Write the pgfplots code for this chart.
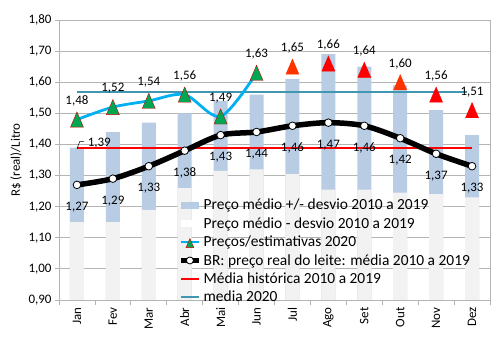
\documentclass[border=0pt]{standalone}
\usepackage{fontspec}
\setmainfont{Carlito}
\usepackage{pgfplots}
\pgfplotsset{compat=1.18}
\definecolor{barblue}{HTML}{B8CCE4}
\definecolor{bargray}{HTML}{F2F2F2}
\definecolor{lineblue}{HTML}{00B0F0}
\definecolor{trigreen}{HTML}{00A651}
\definecolor{tealline}{HTML}{4197B0}
\definecolor{gridgray}{HTML}{B4B4B4}
\definecolor{orred}{HTML}{FF3300}
\newcommand{\fs}{\fontsize{13}{15}\selectfont}
\pgfplotsset{
  trileg/.style={legend image code/.code={\draw[mark repeat=2,mark phase=2,##1, mark size=4.5bp] plot coordinates {(0bp,0bp)(9bp,0bp)(18bp,0bp)};}},
  circleg/.style={legend image code/.code={\draw[mark repeat=2,mark phase=2,##1, mark size=3.5bp] plot coordinates {(0bp,0bp)(9bp,0bp)(18bp,0bp)};}},
  lineleg/.style={legend image code/.code={\draw[mark repeat=2,mark phase=2,##1] plot coordinates {(0bp,0bp)(9bp,0bp)(18bp,0bp)};}},
  blueleg/.style={legend image code/.code={\fill[barblue] (0bp,-3.5bp) rectangle (18bp,3.5bp);}},
  grayleg/.style={legend image code/.code={\fill[white] (0bp,-3.5bp) rectangle (18bp,3.5bp);}},
}
\begin{document}
\begin{tikzpicture}
\path[use as bounding box] (-59bp,-51bp) rectangle (441bp,300bp);
\begin{axis}[
  at={(0,0)}, anchor=south west,
  scale only axis, width=431bp, height=280bp,
  xmin=-0.5, xmax=11.5, ymin=0.9, ymax=1.8,
  ytick={0.9,1.0,1.1,1.2,1.3,1.4,1.5,1.6,1.7,1.8},
  /pgf/number format/use comma,
  /pgf/number format/fixed,
  /pgf/number format/fixed zerofill,
  /pgf/number format/precision=2,
  /pgf/number format/assume math mode=true,
  tick label style={font=\fs},
  ymajorgrids, major grid style={gridgray, line width=0.8bp},
  xtick={0,...,11},
  xticklabels={Jan,Fev,Mar,Abr,Mai,Jun,Jul,Ago,Set,Out,Nov,Dez},
  xticklabel style={rotate=90, anchor=east},
  major x tick style={draw=none},
  minor xtick={-0.5,0.5,...,11.5},
  tick align=outside, xtick pos=bottom, ytick pos=left,
  major tick length=4bp, minor tick length=5bp,
  tick style={gridgray, line width=0.8bp},
  axis line style={gridgray, line width=0.8bp},
  ylabel={R\$ (real)/Litro}, ylabel style={font=\fs},
  lineleg,
  legend style={draw=none, fill=none, at={(axis description cs:0.276,0.368)}, anchor=north west,
    inner sep=0pt, font=\fontsize{15.5}{18}\selectfont, cells={anchor=west}, row sep=2.2bp,
    /tikz/every even column/.append style={column sep=0bp}},
  nodes near coords style={font=\fs, anchor=center, text=black},
]
% upper bars (mean + sd)
\addplot[ybar, bar width=14bp, bar shift=0pt, fill=barblue, draw=none, blueleg]
  coordinates {(0,1.39) (1,1.44) (2,1.47) (3,1.50) (4,1.54) (5,1.56) (6,1.61) (7,1.69) (8,1.65) (9,1.59) (10,1.51) (11,1.43)};
\addlegendentry{Preço médio +/- desvio 2010 a 2019}
% lower bars (mean - sd)
\addplot[ybar, bar width=14bp, bar shift=0pt, fill=bargray, draw=none, grayleg]
  coordinates {(0,1.15) (1,1.15) (2,1.19) (3,1.26) (4,1.315) (5,1.32) (6,1.305) (7,1.255) (8,1.255) (9,1.245) (10,1.24) (11,1.23)};
\addlegendentry{Preço médio - desvio 2010 a 2019}
% horizontal reference lines (drawn below the series)
\addplot[red, line width=2bp, forget plot] coordinates {(0,1.39) (11,1.39)};
\addplot[tealline, line width=2bp, forget plot] coordinates {(0,1.57) (10.85,1.57)};
% prices 2020
\addplot[lineblue, line width=2.8bp, smooth, tension=0.5, mark=triangle*, mark size=7.5bp,
  mark options={fill=trigreen, draw=red!80!black, line width=0.4bp, solid, yshift=-2.5bp, yscale=1.35},
  nodes near coords, nodes near coords style={yshift=21bp}, trileg]
  coordinates {(0,1.48) (1,1.52) (2,1.54) (3,1.56) (4,1.49) (5,1.63)};
\addlegendentry{Preços/estimativas 2020}
% estimates 2020
\addplot[only marks, mark=triangle*, mark size=7.5bp, mark options={fill=orred, draw=orred, yshift=-2.5bp, yscale=1.35},
  nodes near coords, nodes near coords style={yshift=21bp}, forget plot]
  coordinates {(6,1.65) (9,1.60)};
\addplot[only marks, mark=triangle*, mark size=7.5bp, mark options={fill=red, draw=red, yshift=-2.5bp, yscale=1.35},
  nodes near coords, nodes near coords style={yshift=21bp}, forget plot]
  coordinates {(7,1.66) (8,1.64) (10,1.56) (11,1.51)};
% historical mean line
\addplot[black, line width=5.5bp, smooth, tension=0.5, mark=*, mark size=3.8bp,
  mark options={fill=white, draw=black, line width=0.8bp},
  nodes near coords, nodes near coords style={yshift=-22bp}, circleg]
  coordinates {(0,1.27) (1,1.29) (2,1.33) (3,1.38) (4,1.43) (5,1.44) (6,1.46) (7,1.47) (8,1.46) (9,1.42) (10,1.37) (11,1.33)};
\addlegendentry{BR: preço real do leite: média 2010 a 2019}
\addlegendimage{red, line width=2bp}
\addlegendentry{Média histórica 2010 a 2019}
\addlegendimage{tealline, line width=2bp}
\addlegendentry{media 2020}
% label for historical mean
\draw[black, line width=0.5bp] (axis cs:0,1.386) -- (axis cs:0.08,1.41) -- (axis cs:0.2,1.41);
\node[font=\fs] at (axis cs:0.62,1.405) {1,39};
\end{axis}
\end{tikzpicture}
\end{document}
